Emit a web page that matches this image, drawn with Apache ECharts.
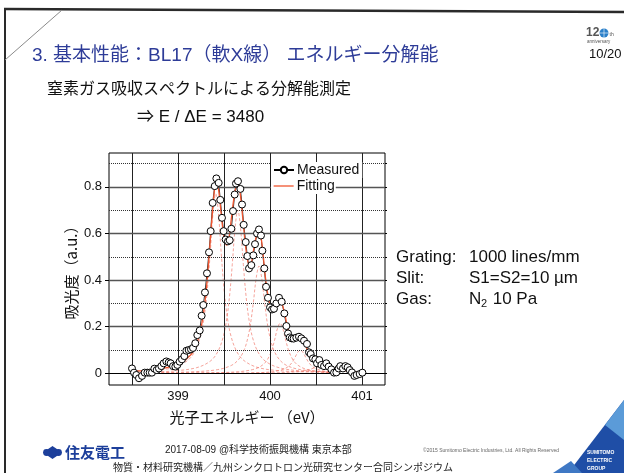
<!DOCTYPE html>
<html>
<head>
<meta charset="utf-8">
<script src="https://cdn.jsdelivr.net/npm/echarts@6/dist/echarts.min.js"></script>
<style>
html,body{margin:0;padding:0;background:#fff;}
#chart{width:624px;height:473px;}
</style>
</head>
<body>
<div id="chart"></div>
<script>
// N2 K-edge absorption spectrum, photon energy (eV) vs absorbance (a.u.)
const measuredEnergy = [
  398.500,398.522,398.547,398.576,398.609,398.638,398.667,398.692,398.717,398.743,
  398.768,398.793,398.819,398.844,398.873,398.899,398.920,398.946,398.971,398.993,
  399.018,399.043,399.069,399.091,399.116,399.141,399.163,399.188,399.210,399.236,
  399.257,399.275,399.293,399.315,399.337,399.355,399.377,399.399,399.417,399.442,
  399.460,399.478,399.496,399.518,399.543,399.562,399.580,399.598,399.616,399.630,
  399.652,399.678,399.696,399.714,399.736,399.754,399.772,399.797,399.819,399.837,
  399.859,399.880,399.902,399.917,399.938,399.957,399.978,400.000,400.022,400.043,
  400.069,400.098,400.127,400.156,400.178,400.196,400.214,400.236,400.257,400.286,
  400.315,400.341,400.370,400.402,400.424,400.442,400.467,400.493,400.511,400.536,
  400.558,400.587,400.612,400.638,400.667,400.696,400.721,400.746,400.764,400.793,
  400.819,400.844,400.866,400.891,400.917,400.942,400.975,401.004
];
const measuredAbsorbance = [
  0.021,0.003,-0.007,-0.021,-0.011,0.003,0.003,0.003,0.003,0.020,
  0.014,0.021,0.031,0.043,0.051,0.047,0.043,0.031,0.029,0.036,
  0.050,0.060,0.074,0.097,0.100,0.103,0.109,0.129,0.164,0.184,
  0.247,0.293,0.347,0.429,0.519,0.610,0.731,0.803,0.836,0.817,
  0.744,0.667,0.610,0.574,0.566,0.571,0.620,0.696,0.767,0.814,
  0.824,0.791,0.724,0.637,0.563,0.503,0.450,0.464,0.506,0.554,
  0.600,0.617,0.591,0.526,0.450,0.371,0.324,0.283,0.274,0.277,
  0.300,0.324,0.307,0.257,0.203,0.171,0.154,0.150,0.149,0.153,
  0.157,0.150,0.140,0.126,0.090,0.083,0.064,0.060,0.043,0.057,
  0.036,0.031,0.043,0.029,0.017,0.003,0.004,0.021,0.031,0.021,
  0.031,0.026,0.014,0.004,-0.011,-0.007,-0.003,0.003
];

// total fitted curve
const fitCurve = [
  [398.55,0.010],[398.65,0.012],[398.75,0.016],[398.85,0.022],[398.95,0.032],
  [399.00,0.040],[399.05,0.050],[399.10,0.065],[399.15,0.085],[399.20,0.125],
  [399.24,0.175],[399.27,0.240],[399.30,0.330],[399.33,0.460],[399.36,0.620],
  [399.39,0.760],[399.41,0.815],[399.43,0.810],[399.45,0.760],[399.47,0.680],
  [399.49,0.610],[399.51,0.565],[399.53,0.550],[399.55,0.570],[399.57,0.630],
  [399.60,0.730],[399.63,0.800],[399.65,0.815],[399.67,0.790],[399.69,0.720],
  [399.71,0.640],[399.73,0.560],[399.75,0.500],[399.77,0.470],[399.79,0.470],
  [399.81,0.500],[399.83,0.550],[399.86,0.600],[399.88,0.615],[399.90,0.590],
  [399.92,0.530],[399.94,0.450],[399.96,0.380],[399.98,0.330],[400.00,0.295],
  [400.03,0.280],[400.06,0.295],[400.09,0.315],[400.11,0.318],[400.13,0.300],
  [400.16,0.255],[400.19,0.200],[400.22,0.165],[400.25,0.150],[400.28,0.150],
  [400.31,0.155],[400.33,0.155],[400.36,0.140],[400.39,0.115],[400.42,0.090],
  [400.46,0.068],[400.50,0.052],[400.55,0.043],[400.60,0.035],[400.65,0.025],
  [400.70,0.018],[400.80,0.012],[400.90,0.008],[400.95,0.007],[401.00,0.006]
];

// fitted peak components
const peak1 = [
  [398.60,0.008],[398.80,0.015],[398.96,0.026],[399.11,0.057],[399.19,0.100],
  [399.25,0.169],[399.29,0.257],[399.32,0.363],[399.35,0.514],[399.38,0.685],
  [399.41,0.770],[399.44,0.685],[399.47,0.514],[399.50,0.363],[399.53,0.257],
  [399.57,0.169],[399.63,0.100],[399.71,0.057],[399.86,0.026],[400.11,0.011],
  [400.41,0.006],[400.75,0.003]
];
const peak2 = [
  [398.60,0.005],[398.80,0.007],[398.95,0.010],[399.20,0.024],[399.35,0.052],
  [399.43,0.091],[399.49,0.154],[399.53,0.234],[399.56,0.330],[399.59,0.467],
  [399.62,0.622],[399.65,0.700],[399.68,0.622],[399.71,0.467],[399.74,0.330],
  [399.77,0.234],[399.81,0.154],[399.87,0.091],[399.95,0.052],[400.10,0.024],
  [400.35,0.010],[400.75,0.004]
];
const peak3 = [
  [398.60,0.002],[398.80,0.003],[399.18,0.007],[399.43,0.016],[399.58,0.034],
  [399.66,0.060],[399.72,0.101],[399.76,0.154],[399.79,0.217],[399.82,0.307],
  [399.85,0.409],[399.88,0.460],[399.91,0.409],[399.94,0.307],[399.97,0.217],
  [400.00,0.154],[400.04,0.101],[400.10,0.060],[400.18,0.034],[400.33,0.016],
  [400.58,0.007],[400.75,0.004]
];
const peak4 = [
  [398.60,0.001],[399.41,0.003],[399.66,0.007],[399.81,0.016],[399.89,0.028],
  [399.95,0.047],[399.99,0.072],[400.02,0.101],[400.05,0.143],[400.08,0.191],
  [400.11,0.215],[400.14,0.191],[400.17,0.143],[400.20,0.101],[400.23,0.072],
  [400.27,0.047],[400.33,0.028],[400.41,0.016],[400.56,0.007],[400.75,0.003]
];
const peak5 = [
  [398.60,0.000],[399.63,0.002],[399.88,0.003],[400.03,0.007],[400.11,0.013],
  [400.17,0.022],[400.21,0.033],[400.24,0.047],[400.27,0.067],[400.30,0.089],
  [400.33,0.100],[400.36,0.089],[400.39,0.067],[400.42,0.047],[400.45,0.033],
  [400.49,0.022],[400.55,0.013],[400.63,0.007],[400.75,0.004]
];
const peak6 = [
  [399.80,0.001],[400.12,0.003],[400.27,0.006],[400.35,0.009],[400.41,0.014],
  [400.45,0.019],[400.48,0.024],[400.51,0.027],[400.54,0.029],[400.57,0.030],
  [400.60,0.029],[400.63,0.027],[400.66,0.024],[400.70,0.020],[400.75,0.015]
];
const peakComponents = [peak1, peak2, peak3, peak4, peak5, peak6];

// axis ticks and grid positions
const xTickLabels = [399, 400, 401];
const xGridLines = [398.5, 399, 399.5, 400, 400.5, 401];
const yMajorTicks = [0, 0.2, 0.4, 0.6, 0.8];
const yMinorTicks = [0.1, 0.3, 0.5, 0.7, 0.9];
const yRightTicks = [0, 0.1, 0.2, 0.3, 0.4, 0.5, 0.6, 0.7, 0.8, 0.9];

const LATIN = '"Liberation Sans","Noto Sans CJK JP",sans-serif';
const CJK = '"Noto Sans CJK JP","Liberation Sans",sans-serif';

const measuredPoints = measuredEnergy.map((e, i) => [e, measuredAbsorbance[i]]);

function label(x, y, text, font, fill, align) {
  return {
    type: 'text', x: x, y: y, silent: true, z: 20,
    style: {
      text: text, font: font, fill: fill || '#111',
      align: align || 'left', textAlign: align || 'left',
      verticalAlign: 'middle', textVerticalAlign: 'middle'
    }
  };
}

const gridMarks = []
  .concat(xGridLines.map(v => ({ xAxis: v, lineStyle: { color: '#222', width: 1, type: 'solid' } })))
  .concat(yMinorTicks.map(v => ({ yAxis: v, lineStyle: { color: '#333', width: 1, type: [1, 1] } })))
  .concat(yMajorTicks.map(v => ({ yAxis: v, lineStyle: { color: v === 0 ? '#000' : '#555', width: v === 0 ? 1 : 1.4, type: 'solid' } })));

const componentSeries = peakComponents.map((d, i) => ({
  name: 'peak' + (i + 1),
  type: 'line',
  data: d,
  smooth: 0.35,
  symbol: 'none',
  z: 2,
  silent: true,
  lineStyle: { color: 'rgba(238,100,85,0.75)', width: 0.8, type: [3, 2] }
}));

const chart = echarts.init(document.getElementById('chart'), null, { renderer: 'canvas' });

chart.setOption({
  animation: false,
  backgroundColor: '#fff',
  grid: {
    left: 109, top: 153, width: 276, height: 232,
    show: true, borderColor: '#000', borderWidth: 1, backgroundColor: 'transparent'
  },
  legend: [
    {
      data: ['Measured'], left: 271, top: 162, orient: 'vertical',
      itemWidth: 20, itemHeight: 8, itemGap: 0, padding: [1, 3, 1, 2],
      backgroundColor: '#fff', z: 10, selectedMode: false,
      textStyle: { fontSize: 14, color: '#111', fontFamily: LATIN, padding: [0, 0, 0, -2] }
    },
    {
      data: ['Fitting'], left: 271, top: 178, orient: 'vertical',
      itemWidth: 20, itemHeight: 8, itemGap: 0, padding: [1, 1, 1, 2],
      backgroundColor: '#fff', z: 10, selectedMode: false,
      itemStyle: { color: 'transparent', borderColor: 'transparent', borderWidth: 0 },
      lineStyle: { color: '#f0552f', width: 1.3 },
      textStyle: { fontSize: 14, color: '#111', fontFamily: LATIN, padding: [0, 0, 0, -2] }
    }
  ],
  xAxis: {
    type: 'value', min: 398.25, max: 401.25,
    name: '光子エネルギー （eV）', nameLocation: 'middle', nameGap: 25,
    nameTextStyle: { fontSize: 15, color: '#111', fontFamily: CJK },
    axisLine: { show: false },
    axisTick: { show: false },
    splitLine: { show: false },
    axisLabel: {
      customValues: xTickLabels, margin: 5, fontSize: 13, color: '#111', fontFamily: LATIN,
      formatter: v => String(Math.round(v))
    }
  },
  yAxis: [
    {
      type: 'value', min: -0.05, max: 0.945,
      name: '吸光度（a.u.）', nameLocation: 'middle', nameGap: 30, nameRotate: 90,
      nameTextStyle: { fontSize: 15, color: '#111', fontFamily: CJK },
      axisLine: { show: false },
      axisTick: { show: true, customValues: yMajorTicks, length: 4, lineStyle: { color: '#000' } },
      splitLine: { show: false },
      axisLabel: {
        customValues: yMajorTicks, margin: 7, fontSize: 13, color: '#111', fontFamily: LATIN,
        formatter: v => (Math.abs(v) < 1e-9 ? '0' : v.toFixed(1))
      }
    },
    {
      type: 'value', min: -0.05, max: 0.945, position: 'right',
      axisLine: { show: false },
      axisTick: { show: true, customValues: yRightTicks, length: 2, lineStyle: { color: '#000' } },
      axisLabel: { show: false },
      splitLine: { show: false }
    }
  ],
  series: [
    {
      name: 'grid', type: 'line', data: [], z: 1, silent: true,
      markLine: {
        silent: true, symbol: ['none', 'none'], label: { show: false },
        animation: false, data: gridMarks
      }
    }
  ].concat(componentSeries).concat([
    {
      name: 'Measured', type: 'line', data: measuredPoints, z: 3,
      showSymbol: false, symbol: 'circle', symbolSize: 7,
      itemStyle: { color: '#fff', borderColor: '#000', borderWidth: 1 },
      lineStyle: { color: '#000', width: 0.8 }
    },
    {
      name: 'Fitting', type: 'line', data: fitCurve, z: 4, smooth: 0.3,
      symbol: 'none',
      itemStyle: { color: '#f0552f' },
      lineStyle: { color: '#f0552f', width: 1.3 }
    },
    {
      name: 'points', type: 'scatter', data: measuredPoints, z: 5,
      symbol: 'circle', symbolSize: 7,
      itemStyle: { color: '#fff', borderColor: '#000', borderWidth: 1, opacity: 1 }
    }
  ]),
  graphic: [
    // slide frame
    { type: 'line', silent: true, shape: { x1: 4, y1: 9, x2: 624, y2: 12 }, style: { stroke: '#2a2a2a', lineWidth: 2.5 } },
    { type: 'line', silent: true, shape: { x1: 5, y1: 9, x2: 5, y2: 473 }, style: { stroke: '#2a2a2a', lineWidth: 2 } },
    { type: 'line', silent: true, shape: { x1: 5, y1: 60, x2: 62, y2: 10 }, style: { stroke: '#8a8a8a', lineWidth: 1 } },

    // headings
    label(32, 56, '3. 基本性能：BL17（軟X線） エネルギー分解能', '19px ' + LATIN, '#2e3c98'),
    label(47, 88, '窒素ガス吸収スペクトルによる分解能測定', '16px ' + CJK, '#111'),
    label(137, 117, '⇒ E / ΔE = 3480', '17px ' + LATIN, '#111'),

    // anniversary mark and page number
    label(586, 33, '12', 'bold 12px ' + LATIN, '#555'),
    { type: 'circle', silent: true, shape: { cx: 604, cy: 33, r: 4.5 }, style: { fill: '#2a7fc9' } },
    { type: 'line', silent: true, shape: { x1: 599.5, y1: 33, x2: 608.5, y2: 33 }, style: { stroke: '#fff', lineWidth: 0.6 } },
    { type: 'line', silent: true, shape: { x1: 604, y1: 28.5, x2: 604, y2: 37.5 }, style: { stroke: '#fff', lineWidth: 0.6 } },
    label(609.5, 35, 'th', '5px ' + LATIN, '#555'),
    label(587, 42, 'anniversary', '4.5px ' + LATIN, '#555'),
    label(589, 54, '10/20', '13px ' + LATIN, '#111'),

    // measurement conditions
    label(396, 257, 'Grating:', '17px ' + LATIN, '#111'),
    label(469, 257, '1000 lines/mm', '17px ' + LATIN, '#111'),
    label(396, 278, 'Slit:', '17px ' + LATIN, '#111'),
    label(469, 278, 'S1=S2=10 µm', '17px ' + LATIN, '#111'),
    label(396, 299, 'Gas:', '17px ' + LATIN, '#111'),
    label(469, 299, 'N', '17px ' + LATIN, '#111'),
    label(481, 304, '2', '11px ' + LATIN, '#111'),
    label(488, 299, ' 10 Pa', '17px ' + LATIN, '#111'),

    // footer
    { type: 'polygon', silent: true, shape: { points: [[43, 452.5], [52.5, 446], [62, 452.5], [52.5, 459]] }, style: { fill: '#1d3f9b' } },
    { type: 'circle', silent: true, shape: { cx: 46.5, cy: 452.5, r: 3.4 }, style: { fill: '#1d3f9b' } },
    { type: 'circle', silent: true, shape: { cx: 58.5, cy: 452.5, r: 3.4 }, style: { fill: '#1d3f9b' } },
    label(65, 452.5, '住友電工', 'bold 15px ' + CJK, '#1d3f9b'),
    label(165, 450, '2017-08-09 @科学技術振興機構 東京本部', '10px ' + LATIN, '#222'),
    label(113, 467, '物質・材料研究機構／九州シンクロトロン光研究センター合同シンポジウム', '10px ' + CJK, '#222'),
    label(423, 451, '©2015 Sumitomo Electric Industries, Ltd. All Rights Reserved', '5px ' + LATIN, '#666'),

    // group badge
    { type: 'polygon', silent: true, shape: { points: [[568, 473], [624, 400], [624, 473]] }, style: { fill: '#1f4ea6' } },
    { type: 'polygon', silent: true, shape: { points: [[605, 425], [624, 400], [624, 440]] }, style: { fill: '#5b9bd8' } },
    { type: 'polygon', silent: true, shape: { points: [[553, 473], [571, 461], [582, 473]] }, style: { fill: '#3f78c4' } },
    label(587, 452.5, 'SUMITOMO', 'bold 5px ' + LATIN, '#fff'),
    label(587, 460.5, 'ELECTRIC', 'bold 5px ' + LATIN, '#fff'),
    label(587, 468.5, 'GROUP', 'bold 5px ' + LATIN, '#fff')
  ]
});
</script>
</body>
</html>
